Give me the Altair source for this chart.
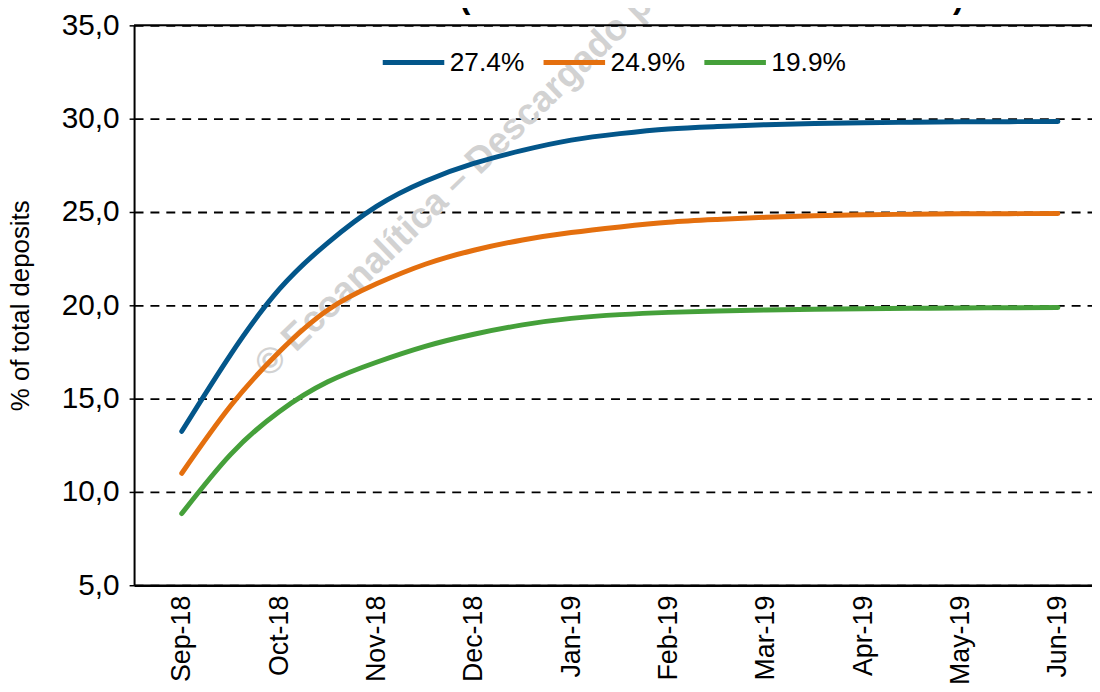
import altair as alt
import pandas as pd

# month index (0 = Sep-18 ... 9 = Jun-19), half-month steps
MONTH_POS = [0, 0.5, 1, 1.5, 2, 2.5, 3, 3.5, 4, 4.5, 5, 5.5, 6, 6.5, 7, 7.5, 8, 8.5, 9]
MONTH_LABELS = ["Sep-18", "Oct-18", "Nov-18", "Dec-18", "Jan-19",
                "Feb-19", "Mar-19", "Apr-19", "May-19", "Jun-19"]

SERIES_NAMES = ["27.4%", "24.9%", "19.9%"]
S_274 = [13.25, 17.35, 20.85, 23.35, 25.3, 26.65, 27.6, 28.3, 28.85, 29.2, 29.45,
         29.58, 29.68, 29.74, 29.78, 29.81, 29.83, 29.84, 29.85]
S_249 = [11.0, 14.6, 17.5, 19.75, 21.15, 22.2, 22.95, 23.5, 23.9, 24.2, 24.45,
         24.6, 24.72, 24.8, 24.85, 24.88, 24.9, 24.91, 24.92]
S_199 = [8.84, 12.0, 14.3, 15.9, 16.95, 17.8, 18.45, 18.95, 19.3, 19.5, 19.62,
         19.7, 19.75, 19.79, 19.82, 19.84, 19.86, 19.87, 19.88]
COLORS = ["#03568A", "#E46F0E", "#45A03A"]

Y_TICKS = [5, 10, 15, 20, 25, 30, 35]
WATERMARK = "© Ecoanalítica – Descargado por"

rows = []
for name, vals in zip(SERIES_NAMES, [S_274, S_249, S_199]):
    for m, v in zip(MONTH_POS, vals):
        rows.append({"m": m, "v": v, "serie": name})
df = pd.DataFrame(rows)

FONT = "Liberation Sans"
month_arr = "[" + ",".join("'%s'" % s for s in MONTH_LABELS) + "]"

x_scale = alt.Scale(domain=[-0.49, 9.35], nice=False, zero=False)
y_scale = alt.Scale(domain=[5, 35], nice=False, zero=False)

base = alt.Chart(df)

lines = base.mark_line(strokeWidth=5, strokeCap="round", interpolate="natural").encode(
    x=alt.X("m:Q", scale=x_scale,
            axis=alt.Axis(values=list(range(10)), labelExpr=month_arr + "[datum.value]",
                          labelAngle=270, labelAlign="right", labelBaseline="middle",
                          labelFontSize=27, labelFont=FONT, labelColor="black",
                          labelPadding=10, ticks=False, tickSize=0, grid=False,
                          domainColor="black", domainWidth=2.5, title=None,
                          labelOverlap=False)),
    y=alt.Y("v:Q", scale=y_scale,
            axis=alt.Axis(values=Y_TICKS,
                          labelExpr="replace(format(datum.value, '.1f'), '.', ',')",
                          labelFontSize=30, labelFont=FONT, labelColor="black",
                          labelPadding=10, tickSize=5, tickColor="black", tickWidth=1.5,
                          domainColor="black", domainWidth=2,
                          grid=True, gridColor="black", gridDash=[9, 7], gridWidth=1.8,
                          title="% of total deposits", titleFont=FONT, titleFontSize=26,
                          titleFontWeight="normal", titleColor="black", titlePadding=28)),
    color=alt.Color("serie:N",
                    scale=alt.Scale(domain=SERIES_NAMES, range=COLORS),
                    sort=SERIES_NAMES,
                    legend=alt.Legend(orient="none", legendX=248, legendY=4,
                                      direction="horizontal", title=None,
                                      symbolType="stroke", symbolSize=3844,
                                      symbolStrokeWidth=5, labelFontSize=26.5,
                                      labelFont=FONT, labelColor="black",
                                      labelOffset=3, columnPadding=8, padding=0)),
)

top_rule = alt.Chart(pd.DataFrame({"y": [35]})).mark_rule(color="black", strokeWidth=2).encode(
    y=alt.Y("y:Q", scale=y_scale))

wm = alt.Chart(pd.DataFrame({"t": [WATERMARK]})).mark_text(
    angle=316, align="left", baseline="alphabetic", fontSize=37, fontWeight="bold",
    font=FONT, color="#d2d2d2").encode(
    text="t:N", x=alt.value(136), y=alt.value(356))

paren = alt.Chart(pd.DataFrame({"t": ["(", ")"], "px": [328, 825]})).mark_text(
    align="left", baseline="alphabetic", fontSize=32, fontWeight="bold",
    font=FONT, color="black").encode(
    text="t:N", x=alt.X("px:Q", scale=None), y=alt.value(-17))

chart = alt.layer(wm, top_rule, lines, paren).properties(
    width=965, height=564,
    padding={"left": 127, "top": 15, "right": 0, "bottom": 97},
    autosize="none",
).configure_view(stroke=None).configure(font=FONT)

chart.save("out.html", embed_options={"renderer": "svg", "actions": False})
